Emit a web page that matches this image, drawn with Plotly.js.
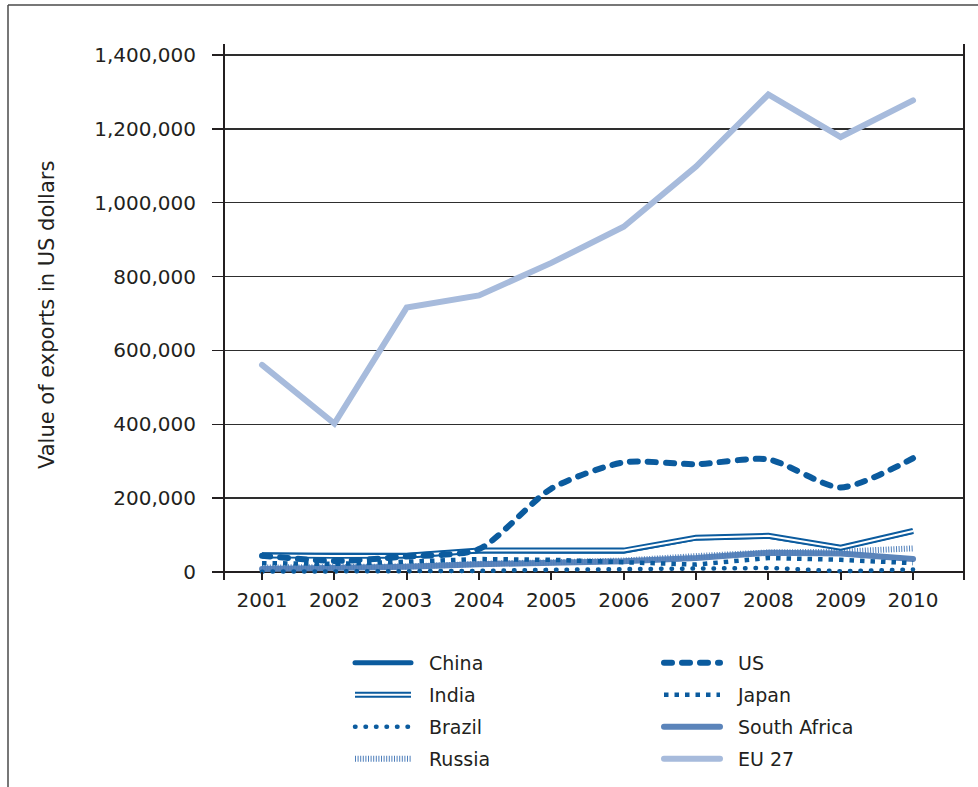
<!DOCTYPE html>
<html>
<head>
<meta charset="utf-8">
<script src="https://cdn.plot.ly/plotly-3.0.1.min.js"></script>
<style>
html,body{margin:0;padding:0;background:#fff;overflow:hidden;}
#chart{width:978px;height:787px;}
</style>
</head>
<body>
<div id="chart"></div>
<script>
// ---- data ----
const years = ['2001','2002','2003','2004','2005','2006','2007','2008','2009','2010'];
const eu27 = [561000, 402000, 716000, 749000, 837000, 935000, 1098000, 1293000, 1178000, 1277000];
const us = [44000, 30000, 42000, 62000, 226000, 297000, 292000, 305000, 229000, 308000];
const india = [45000, 43000, 44000, 58000, 58000, 58000, 93000, 98000, 66000, 111000];
const china = [47000, 44000, 45000, 57000, 56000, 56000, 92000, 97000, 66000, 110000];
const japan = [24000, 22000, 28000, 35000, 33000, 25000, 20000, 38000, 33000, 24000];
const brazil = [1000, 1000, 2000, 3000, 6000, 7000, 9000, 11000, 2000, 7000];
const southAfrica = [8000, 10000, 14000, 21000, 25000, 29000, 38000, 52000, 50000, 35000];
const russia = [12000, 12000, 15000, 22000, 26000, 31000, 43000, 53000, 55000, 64000];
const yTicks = [0, 200000, 400000, 600000, 800000, 1000000, 1200000, 1400000];

const DARK = '#0b5b9e';
const TEXT = '#231f20';

// drawing order (bottom to top); rank gives legend order
const series = [
  {name:'EU 27', y:eu27, color:'#a7bbdc', width:6, dash:'solid', cap:'round', legCap:'round', rank:8},
  {name:'South Africa', y:southAfrica, color:'#5b84ba', width:6, dash:'solid', cap:'round', legCap:'round', rank:6},
  {name:'Russia', y:russia, color:'#4f7fbb', width:6, dash:'1px,1.6px', cap:'butt', legCap:'butt', rank:7},
  {name:'Japan', y:japan, color:DARK, width:4.5, dash:'4.5px,6px', cap:'butt', legCap:'butt', rank:4},
  {name:'Brazil', y:brazil, color:DARK, width:4.5, dash:'0.5px,10px', cap:'round', legCap:'round', rank:5},
  {name:'China', y:china, color:DARK, width:5, dash:'solid', cap:'butt', legCap:'round', rank:1},
  {name:'India', y:india, color:DARK, width:6, dash:'solid', cap:'butt', legCap:'butt', rank:3},
  {name:'India', y:india, color:'#ffffff', width:2, dash:'solid', cap:'butt', legCap:'butt', rank:3, inner:true},
  {name:'US', y:us, color:DARK, width:6, dash:'8px,10px', cap:'round', legCap:'round', rank:2, spline:true}
];

const data = series.map(s => ({
  type:'scatter', mode:'lines', x:years, y:s.y, name:s.name,
  showlegend: !s.inner, legendrank: s.rank,
  line:{color:s.color, width:s.width, dash:s.dash, shape: s.spline ? 'spline' : 'linear', smoothing: s.spline ? 0.7 : undefined},
  hoverinfo:'skip'
}));

// pixel geometry helpers (layout only)
const L = 225, R = 963, T = 44, B = 580;
const px2x = p => (p - L) / (R - L);
const px2y = p => (B - p) / (B - T);

const layout = {
  width:978, height:787,
  margin:{l:L, r:978-R, t:T, b:787-B, pad:0, autoexpand:false},
  paper_bgcolor:'#ffffff', plot_bgcolor:'#ffffff',
  font:{family:'DejaVu Sans, Liberation Sans, sans-serif', color:TEXT, size:20},
  showlegend:true,
  xaxis:{
    type:'category', range:[-0.512, 9.691], showgrid:false, zeroline:false, showline:false,
    ticks:'inside', ticklen:8, tickwidth:2, tickcolor:TEXT,
    tickfont:{size:20, color:TEXT}, ticklabelstandoff:6, fixedrange:true
  },
  yaxis:{
    range:[-21660, 1429790], tickmode:'array', tickvals:yTicks, tickformat:',d',
    showgrid:true, gridcolor:'#2e2e2e', gridwidth:1.5,
    zeroline:true, zerolinecolor:TEXT, zerolinewidth:2,
    showline:true, linecolor:TEXT, linewidth:2, mirror:true,
    ticks:'outside', ticklen:11, tickwidth:1.5, tickcolor:TEXT,
    tickfont:{size:20, color:TEXT}, ticklabelstandoff:12, fixedrange:true
  },
  legend:{
    orientation:'h', x:px2x(350), y:px2y(644), xanchor:'left', yanchor:'top',
    font:{size:19, color:TEXT}, itemwidth:69, entrywidth:225, entrywidthmode:'pixels',
    bgcolor:'rgba(0,0,0,0)', borderwidth:0, itemclick:false, itemdoubleclick:false
  },
  annotations:[{
    text:'Value of exports in US dollars', xref:'paper', yref:'paper',
    x:px2x(47), y:px2y(315), xanchor:'center', yanchor:'middle', textangle:-90,
    showarrow:false, font:{size:21, color:TEXT}
  }],
  shapes:[
    {type:'line', xref:'paper', yref:'paper', x0:px2x(8), x1:px2x(978), y0:px2y(5), y1:px2y(5), line:{color:'#4a4a4a', width:1.5}},
    {type:'line', xref:'paper', yref:'paper', x0:px2x(8), x1:px2x(8), y0:px2y(5), y1:px2y(787), line:{color:'#4a4a4a', width:1.5}}
  ]
};

Plotly.newPlot('chart', data, layout, {staticPlot:true, displayModeBar:false}).then(gd => {
  // line caps per trace
  const traceEls = gd.querySelectorAll('.scatterlayer .trace');
  traceEls.forEach((el, i) => {
    const s = series[i];
    if (!s) return;
    el.querySelectorAll('path.js-line').forEach(p => { p.style.strokeLinecap = s.cap; });
  });
  // let the legend draw outside its computed box (rows are re-spaced below)
  gd.querySelectorAll('.legend, .legend .scrollbox').forEach(el => el.removeAttribute('clip-path'));
  // legend symbols: length, style and row spacing
  const items = Array.from(gd.querySelectorAll('.legend .traces'));
  const rowsY = [];
  const re = /translate\(\s*([-\d.]+)[ ,]+([-\d.]+)\s*\)/;
  items.forEach(item => {
    const m = re.exec(item.getAttribute('transform') || '');
    if (m) { const yv = parseFloat(m[2]); if (!rowsY.some(v => Math.abs(v - yv) < 0.5)) rowsY.push(yv); }
  });
  rowsY.sort((a, b) => a - b);
  items.forEach(item => {
    const m = re.exec(item.getAttribute('transform') || '');
    if (m) {
      const xv = parseFloat(m[1]), yv = parseFloat(m[2]);
      const r = rowsY.findIndex(v => Math.abs(v - yv) < 0.5);
      item.setAttribute('transform', 'translate(' + xv + ',' + (rowsY[0] + r * 32) + ')');
    }
    const txt = item.querySelector('.legendtext');
    if (!txt) return;
    const name = txt.textContent;
    const s = series.find(q => q.name === name && !q.inner);
    const path = item.querySelector('path.js-line');
    if (!path || !s) return;
    path.setAttribute('d', 'M5,0h56');
    path.style.strokeLinecap = s.legCap;
    if (name === 'India') {
      const inner = path.cloneNode();
      inner.style.stroke = '#ffffff';
      inner.style.strokeWidth = '2px';
      path.parentNode.appendChild(inner);
    }
  });
});
</script>
</body>
</html>
